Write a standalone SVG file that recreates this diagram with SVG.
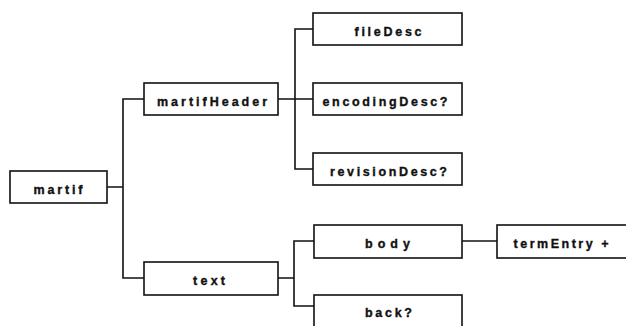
<svg xmlns="http://www.w3.org/2000/svg" width="626" height="326" viewBox="0 0 626 326">
  <style>
    .box { fill: #ffffff; stroke: #111111; stroke-width: 1.6; }
    .lbl { font-family: "Liberation Sans", Arial, sans-serif; font-weight: bold; font-size: 12.5px; fill: #111111; stroke: #111111; stroke-width: 0.35; text-anchor: middle; }
    .wire { fill: none; stroke: #111111; stroke-width: 1.6; }
  </style>
  <rect width="626" height="326" fill="#ffffff"/>

  <!-- tree connectors -->
  <g id="connectors">
    <path class="wire" d="M107 187 H123 M144 99 H123 V278 H144"/>
    <path class="wire" d="M278 99 H295 M313 29 H295 V169 H313 M295 99 H313"/>
    <path class="wire" d="M278 278 H294 M314 241 H294 V306 H314"/>
    <path class="wire" d="M462 241 H497"/>
  </g>

  <g id="martif">
    <rect class="box" x="10" y="171" width="97" height="32"/>
    <text class="lbl" x="58" y="193.5" textLength="49" lengthAdjust="spacing">martif</text>
  </g>

  <g id="martifHeader">
    <rect class="box" x="144" y="83" width="134" height="32"/>
    <text class="lbl" x="212" y="105.5" textLength="110" lengthAdjust="spacing">martifHeader</text>
  </g>

  <g id="fileDesc">
    <rect class="box" x="313" y="13" width="149" height="32"/>
    <text class="lbl" x="388" y="35.5" textLength="67" lengthAdjust="spacing">fileDesc</text>
  </g>

  <g id="encodingDesc">
    <rect class="box" x="313" y="83" width="149" height="32"/>
    <text class="lbl" x="385" y="105.5" textLength="125" lengthAdjust="spacing">encodingDesc?</text>
  </g>

  <g id="revisionDesc">
    <rect class="box" x="313" y="153" width="149" height="32"/>
    <text class="lbl" x="388.5" y="175.5" textLength="117" lengthAdjust="spacing">revisionDesc?</text>
  </g>

  <g id="text">
    <rect class="box" x="144" y="262" width="134" height="33"/>
    <text class="lbl" x="209" y="285" textLength="32" lengthAdjust="spacing">text</text>
  </g>

  <g id="body">
    <rect class="box" x="314" y="225" width="148" height="33"/>
    <text class="lbl" x="387.5" y="248" textLength="45" lengthAdjust="spacing">body</text>
  </g>

  <g id="termEntry">
    <rect class="box" x="497" y="225" width="135" height="33"/>
    <text class="lbl" x="561" y="248" textLength="95" lengthAdjust="spacing">termEntry +</text>
  </g>

  <g id="back">
    <rect class="box" x="314" y="295" width="148" height="36"/>
    <text class="lbl" x="388.5" y="317" textLength="47" lengthAdjust="spacing">back?</text>
  </g>
</svg>
